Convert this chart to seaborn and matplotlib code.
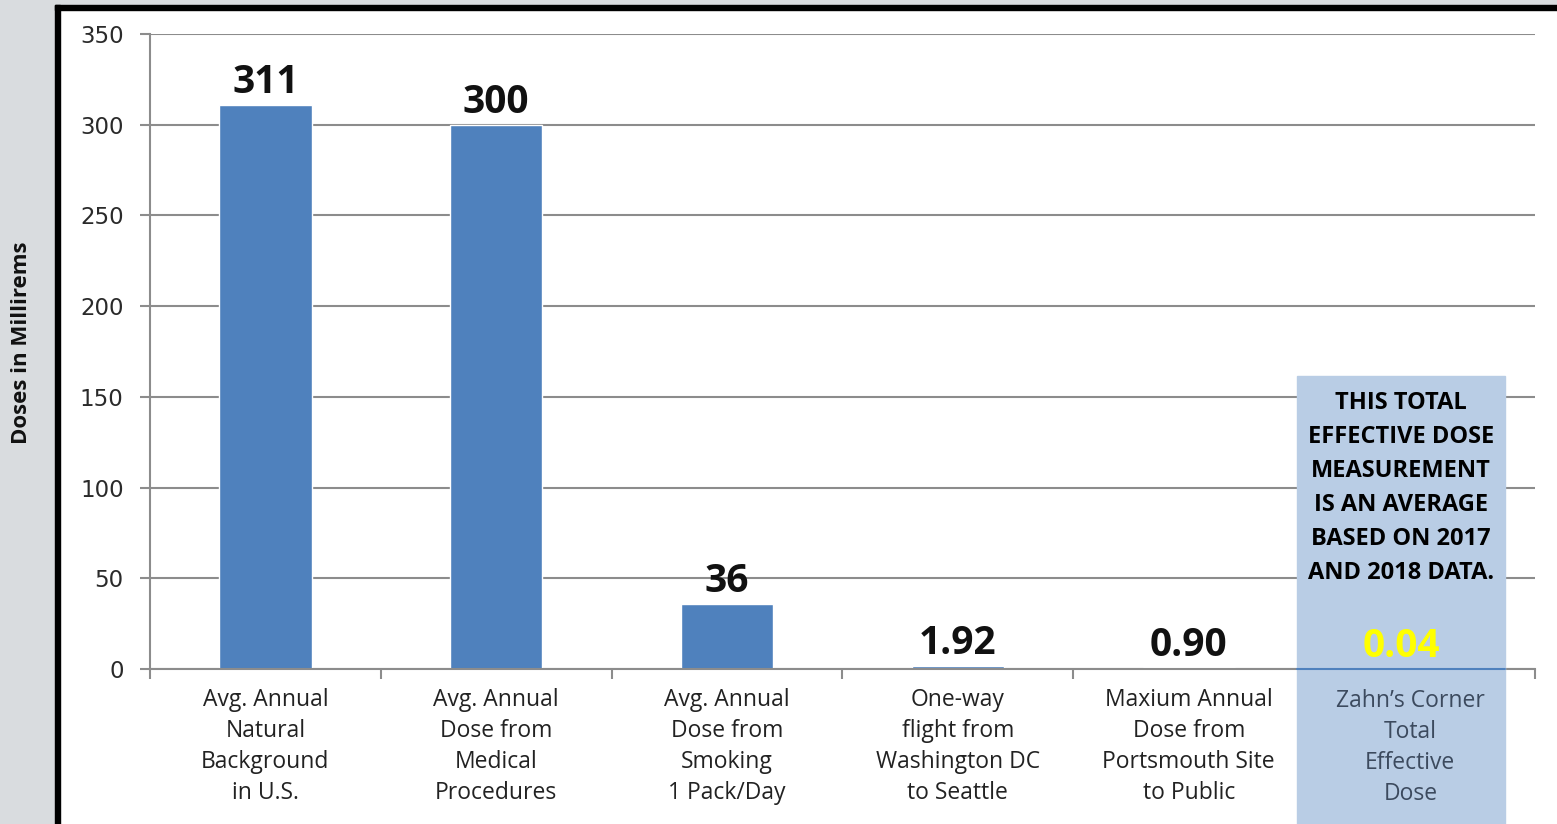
import matplotlib
matplotlib.use("Agg")
import matplotlib.pyplot as plt
import matplotlib.transforms as mtransforms
from matplotlib.patches import Rectangle
import seaborn as sns

categories = ["natural", "medical", "smoking", "flight", "portsmouth", "zahns"]
tick_labels = [
    "Avg. Annual\nNatural\nBackground\nin U.S.",
    "Avg. Annual\nDose from\nMedical\nProcedures",
    "Avg. Annual\nDose from\nSmoking\n1 Pack/Day",
    "One-way\nflight from\nWashington DC\nto Seattle",
    "Maxium Annual\nDose from\nPortsmouth Site\nto Public",
    "Zahn\u2019s Corner\nTotal\nEffective\nDose",
]
doses = [311, 300, 36, 1.92, 0.90, 0.04]
dose_labels = ["311", "300", "36", "1.92", "0.90", "0.04"]
yticks = [0, 50, 100, 150, 200, 250, 300, 350]
note = "THIS TOTAL\nEFFECTIVE DOSE\nMEASUREMENT\nIS AN AVERAGE\nBASED ON 2017\nAND 2018 DATA."

W, H = 1557, 824
sns.set_theme(style="white")
plt.rcParams["font.family"] = ["Open Sans", "DejaVu Sans"]

fig = plt.figure(figsize=(W / 100, H / 100), dpi=100)
fig.patch.set_facecolor("white")
ax = fig.add_axes([150 / W, 1 - 669 / H, (1535 - 150) / W, (669 - 34) / H])

# frame around the chart: gray margin + black border
gray = "#d9dcdf"
fig.add_artist(Rectangle((0, 0), 55 / W, 1, transform=fig.transFigure, color=gray, zorder=0))
fig.add_artist(Rectangle((0, 1 - 5 / H), 1, 5 / H, transform=fig.transFigure, color=gray, zorder=0))
fig.add_artist(Rectangle((55 / W, 0), 5 / W, 1 - 5 / H, transform=fig.transFigure, color="black", zorder=1))
fig.add_artist(Rectangle((55 / W, 1 - 10 / H), 1 - 55 / W, 5 / H, transform=fig.transFigure, color="black", zorder=1))

sns.barplot(x=categories, y=doses, color="#4f81bd", width=0.4, saturation=1, ax=ax, zorder=2)

ax.set_xlim(-0.5, len(categories) - 0.5)
ax.set_ylim(0, 350)
ax.set_yticks(yticks)
ax.set_yticklabels([str(t) for t in yticks], fontsize=16.5, color="#2a2a2a", family="DejaVu Sans")
ax.yaxis.grid(True, color="#8c8c8c", lw=1.5)
ax.set_axisbelow(True)
for s in ["top", "right"]:
    ax.spines[s].set_visible(False)
for s in ["left", "bottom"]:
    ax.spines[s].set_color("#8c8c8c")
    ax.spines[s].set_linewidth(1.5)
ax.tick_params(axis="y", length=7, width=1.5, color="#8c8c8c", pad=12, left=True)
ax.set_xticks(range(len(categories)))
ax.set_xticklabels(tick_labels[:-1] + [""], fontsize=16.5, color="#222222", linespacing=1.38)
ax.tick_params(axis="x", length=0, pad=14)
ax.set_xticks([i - 0.5 for i in range(len(categories) + 1)], minor=True)
ax.tick_params(axis="x", which="minor", length=7, width=1.5, color="#8c8c8c", bottom=True)
ax.set_xlabel("")
ax.set_ylabel("")

fig.text(22 / W, 1 - 343 / H, "Doses in Millirems", rotation=90, ha="center", va="center",
         fontsize=16, fontweight="bold", color="#111111")

# highlight box for the Zahn's Corner column
bx0, bx1, by1 = 1297 / W, 1505 / W, 1 - 376 / H
box = Rectangle((bx0, 0), bx1 - bx0, by1, transform=fig.transFigure, color="#b9cde5",
                zorder=3, clip_on=False)
ax.add_artist(box)
blend = mtransforms.blended_transform_factory(fig.transFigure, ax.transData)
ax.plot([bx0, bx1], [doses[-1], doses[-1]], transform=blend, color="#4f81bd", lw=1.5,
        zorder=4, clip_on=False)
ax.text(len(categories) - 1 - 0.04, -20 / 635, tick_labels[-1],
        transform=mtransforms.blended_transform_factory(ax.transData, ax.transAxes),
        ha="center", va="top", fontsize=16.5, color="#3c4a5e", linespacing=1.38, zorder=5)
ax.text((bx0 + bx1) / 2, 1 - 488 / H, note, transform=fig.transFigure, ha="center", va="center",
        fontsize=17, fontweight="bold", linespacing=1.55, color="black", zorder=5)

texts = ax.bar_label(ax.containers[0], labels=dose_labels, padding=2, fontsize=28,
                     fontweight="bold", color="#111111")
last = texts[-1]
last.set_color("#ffff00")
last.set_zorder(5)
last.xy = (last.xy[0] - 0.08, last.xy[1])

fig.savefig("out.png", dpi=100)
